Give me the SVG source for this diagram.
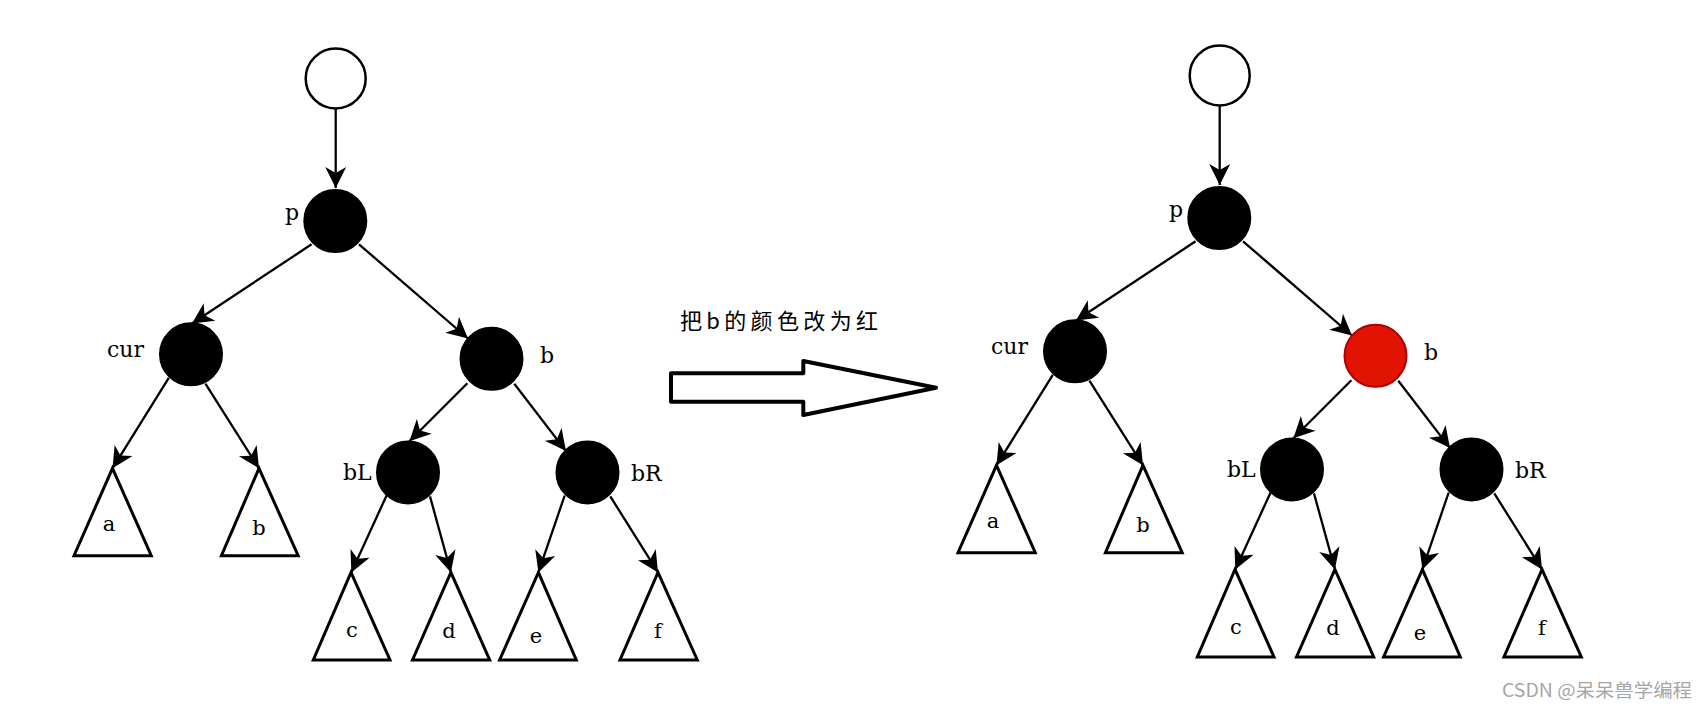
<svg xmlns="http://www.w3.org/2000/svg" width="1708" height="709" viewBox="0 0 1708 709">
<defs>
<style>
.lbl{font-family:"DejaVu Serif","Liberation Serif",serif;font-size:22px;fill:#000}
.tl{font-family:"DejaVu Serif","Liberation Serif",serif;font-size:21px;fill:#000;text-anchor:middle}
.blk{fill:#000;stroke:#000;stroke-width:2}
.wht{fill:#fff;stroke:#000;stroke-width:2.5}
.red{fill:#e01400;stroke:#b20000;stroke-width:2}
.tri{fill:#fff;stroke:#000;stroke-width:3;stroke-linejoin:miter}
.edge{stroke:#000;stroke-width:2.3;fill:none;marker-end:url(#ah)}
</style>
<marker id="ah" markerUnits="userSpaceOnUse" markerWidth="24" markerHeight="24" viewBox="-22 -12 24 24" refX="0" refY="0" orient="auto" overflow="visible">
<path d="M0,0 L-21,-10.5 L-15,0 L-21,10.5 Z" fill="#000"/>
</marker>
</defs>
<rect width="1708" height="709" fill="#fff"/>

<g id="connectors">
<g id="edges-left">
<line class="edge" x1="335.7" y1="108.6" x2="335.7" y2="188"/>
<line class="edge" x1="311.6" y1="244.3" x2="192" y2="323.5"/>
<line class="edge" x1="359" y1="244.3" x2="468" y2="338.5"/>
<line class="edge" x1="168.8" y1="377.8" x2="112.5" y2="468.3"/>
<line class="edge" x1="205.4" y1="383.7" x2="259" y2="468.3"/>
<line class="edge" x1="467.4" y1="383.3" x2="409.4" y2="441.2"/>
<line class="edge" x1="514.3" y1="383.7" x2="566" y2="451.1"/>
<line class="edge" x1="386.6" y1="495.5" x2="351.3" y2="572.4"/>
<line class="edge" x1="430" y1="496.4" x2="450.9" y2="572.4"/>
<line class="edge" x1="564.7" y1="495.5" x2="538.4" y2="572.4"/>
<line class="edge" x1="610.3" y1="496.4" x2="658" y2="572.4"/>
</g>
<g id="edges-right" transform="translate(884,-3)">
<line class="edge" x1="335.7" y1="108.6" x2="335.7" y2="188"/>
<line class="edge" x1="311.6" y1="244.3" x2="192" y2="323.5"/>
<line class="edge" x1="359" y1="244.3" x2="468" y2="338.5"/>
<line class="edge" x1="168.8" y1="377.8" x2="112.5" y2="468.3"/>
<line class="edge" x1="205.4" y1="383.7" x2="259" y2="468.3"/>
<line class="edge" x1="467.4" y1="383.3" x2="409.4" y2="441.2"/>
<line class="edge" x1="514.3" y1="383.7" x2="566" y2="451.1"/>
<line class="edge" x1="386.6" y1="495.5" x2="351.3" y2="572.4"/>
<line class="edge" x1="430" y1="496.4" x2="450.9" y2="572.4"/>
<line class="edge" x1="564.7" y1="495.5" x2="538.4" y2="572.4"/>
<line class="edge" x1="610.3" y1="496.4" x2="658" y2="572.4"/>
</g>
</g>

<g id="tree-left">
<g id="L-root"><circle class="wht" cx="335.7" cy="78.5" r="30"/></g>
<g id="L-p"><circle class="blk" cx="335.3" cy="221" r="31"/><text class="lbl" x="285" y="220">p</text></g>
<g id="L-cur"><circle class="blk" cx="191" cy="354.3" r="31"/><text class="lbl" x="107" y="357">cur</text></g>
<g id="L-b"><circle class="blk" cx="491.5" cy="358.8" r="31"/><text class="lbl" x="540" y="363">b</text></g>
<g id="L-bL"><circle class="blk" cx="408" cy="472.4" r="31"/><text class="lbl" x="343" y="480">bL</text></g>
<g id="L-bR"><circle class="blk" cx="587.5" cy="472.4" r="31"/><text class="lbl" x="631" y="481">bR</text></g>
<g id="L-ta"><polygon class="tri" points="112.5,468.3 151.3,555.7 74,555.7"/><text class="tl" x="109" y="531">a</text></g>
<g id="L-tb"><polygon class="tri" points="259,468.3 298.2,555.7 221.4,555.7"/><text class="tl" x="259" y="535">b</text></g>
<g id="L-tc"><polygon class="tri" points="351,572.4 390,660 313.3,660"/><text class="tl" x="352" y="637">c</text></g>
<g id="L-td"><polygon class="tri" points="450.9,572.4 489.7,660 412.5,660"/><text class="tl" x="449" y="638">d</text></g>
<g id="L-te"><polygon class="tri" points="538.4,572.4 576.3,660 499.6,660"/><text class="tl" x="536" y="643">e</text></g>
<g id="L-tf"><polygon class="tri" points="658,572.4 697.3,660 620,660"/><text class="tl" x="658" y="638">f</text></g>
</g>

<g id="transform-arrow">
<polygon points="671,373.3 803.3,373.3 803.3,361 936,387.7 803.3,415 803.3,401.7 671,401.7" fill="#fff" stroke="#000" stroke-width="4" stroke-linejoin="round"/>
<text x="680" y="329" font-family="'Noto Sans CJK SC','Noto Sans',sans-serif" font-size="22" textLength="198" lengthAdjust="spacing" fill="#000">把b的颜色改为红</text>
</g>

<g id="tree-right" transform="translate(884,-3)">
<g id="R-root"><circle class="wht" cx="335.7" cy="78.5" r="30"/></g>
<g id="R-p"><circle class="blk" cx="335.3" cy="221" r="31"/><text class="lbl" x="285" y="220">p</text></g>
<g id="R-cur"><circle class="blk" cx="191" cy="354.3" r="31"/><text class="lbl" x="107" y="357">cur</text></g>
<g id="R-b"><circle class="red" cx="491.5" cy="358.8" r="31"/><text class="lbl" x="540" y="363">b</text></g>
<g id="R-bL"><circle class="blk" cx="408" cy="472.4" r="31"/><text class="lbl" x="343" y="480">bL</text></g>
<g id="R-bR"><circle class="blk" cx="587.5" cy="472.4" r="31"/><text class="lbl" x="631" y="481">bR</text></g>
<g id="R-ta"><polygon class="tri" points="112.5,468.3 151.3,555.7 74,555.7"/><text class="tl" x="109" y="531">a</text></g>
<g id="R-tb"><polygon class="tri" points="259,468.3 298.2,555.7 221.4,555.7"/><text class="tl" x="259" y="535">b</text></g>
<g id="R-tc"><polygon class="tri" points="351,572.4 390,660 313.3,660"/><text class="tl" x="352" y="637">c</text></g>
<g id="R-td"><polygon class="tri" points="450.9,572.4 489.7,660 412.5,660"/><text class="tl" x="449" y="638">d</text></g>
<g id="R-te"><polygon class="tri" points="538.4,572.4 576.3,660 499.6,660"/><text class="tl" x="536" y="643">e</text></g>
<g id="R-tf"><polygon class="tri" points="658,572.4 697.3,660 620,660"/><text class="tl" x="658" y="638">f</text></g>
</g>

<g id="watermark">
<text x="1502" y="697" font-family="'Noto Sans CJK SC','Noto Sans',sans-serif" font-size="18" textLength="190" lengthAdjust="spacingAndGlyphs" fill="#a6a6a6">CSDN @呆呆兽学编程</text>
</g>
</svg>
